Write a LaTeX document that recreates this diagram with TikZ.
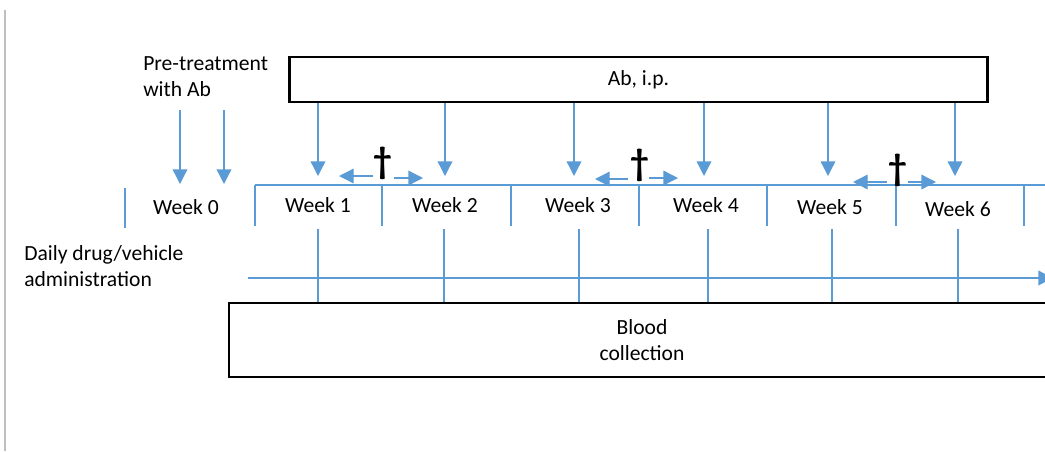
\documentclass[tikz,border=0pt]{standalone}
\usepackage{fontspec}
\setmainfont{Carlito}
\usetikzlibrary{arrows.meta}
\definecolor{LineBlue}{HTML}{5B9BD5}
\definecolor{EdgeGray}{HTML}{BFBFBF}

\begin{document}
\begin{tikzpicture}[
  x=0.75pt, y=-0.75pt,
  font=\fontsize{16.2}{19.5}\selectfont,
  plain/.style={draw=LineBlue, line width=1pt},
  flow/.style={plain, -{Triangle[width=11pt,length=11pt]}},
  frame/.style={draw=black, line width=1.6pt, minimum height=#1, inner sep=0pt, align=center},
  week/.style={inner sep=1pt},
  cross/.style={font=\fontsize{28}{30}\bfseries\selectfont, inner sep=0pt}
]
\useasboundingbox (0,0) rectangle (1045,451);
\clip (0,0) rectangle (1045,451);
\draw[EdgeGray, line width=1.5pt] (5,10) -- (5,451);

% boxes
\node[frame=33.75pt, minimum width=523.5pt] (ab) at (638.5,79.5) {Ab, i.p.};
\node[frame=55.5pt, minimum width=619.5pt] (blood) at (642,340) {Blood\\collection};

% side labels
\node[align=left, anchor=north west, inner sep=0pt] (pre) at (143,56) {Pre-treatment\\with Ab};
\node[align=left, anchor=north west, inner sep=0pt] (daily) at (24,245) {Daily drug/vehicle\\administration};

% time line
\coordinate (tl0) at (255,185);
\coordinate (tl1) at (1045,185);
\draw[plain] (tl0) -- (tl1);
\foreach \x in {255,382,511,639,767,896,1024}
  \draw[plain] (\x,185) -- (\x,226);
\draw[plain] (125,188) -- (125,228);

\node[week] (w0) at (186,207) {Week 0};
\node[week] (w1) at (318,205) {Week 1};
\node[week] (w2) at (445,205) {Week 2};
\node[week] (w3) at (578,205) {Week 3};
\node[week] (w4) at (706,205) {Week 4};
\node[week] (w5) at (830,207) {Week 5};
\node[week] (w6) at (958,209) {Week 6};

% pre-treatment arrows
\coordinate (p1) at (180,184);
\coordinate (p2) at (224,184);
\draw[flow] (180,110) -- (p1);
\draw[flow] (224,110) -- (p2);

% Ab injections
\foreach \x [count=\i] in {318,445,574,704,828,955} {
  \coordinate (inj\i) at (\x,176);
  \draw[flow] (ab.south -| inj\i) -- (inj\i);
}

% deaths
\node[cross] (d1) at (383,163) {†};
\node[cross] (d2) at (640,165) {†};
\node[cross] (d3) at (898,170) {†};
\coordinate (d1l) at (339,176); \coordinate (d1r) at (423,178);
\coordinate (d2l) at (595,179); \coordinate (d2r) at (678,178);
\coordinate (d3l) at (853,182); \coordinate (d3r) at (936,182);
\draw[flow] (373,176) -- (d1l);
\draw[flow] (394,178) -- (d1r);
\draw[flow] (628,179) -- (d2l);
\draw[flow] (649,178) -- (d2r);
\draw[flow] (887,182) -- (d3l);
\draw[flow] (908,182) -- (d3r);

% daily administration
\coordinate (ds) at (248,278);
\coordinate (de) at (1053,278);
\draw[flow] (ds) -- (de);

% blood sampling
\foreach \x in {318,444,579,708,832,958}
  \draw[plain] (\x,229) -- (\x,302);
\end{tikzpicture}
\end{document}
